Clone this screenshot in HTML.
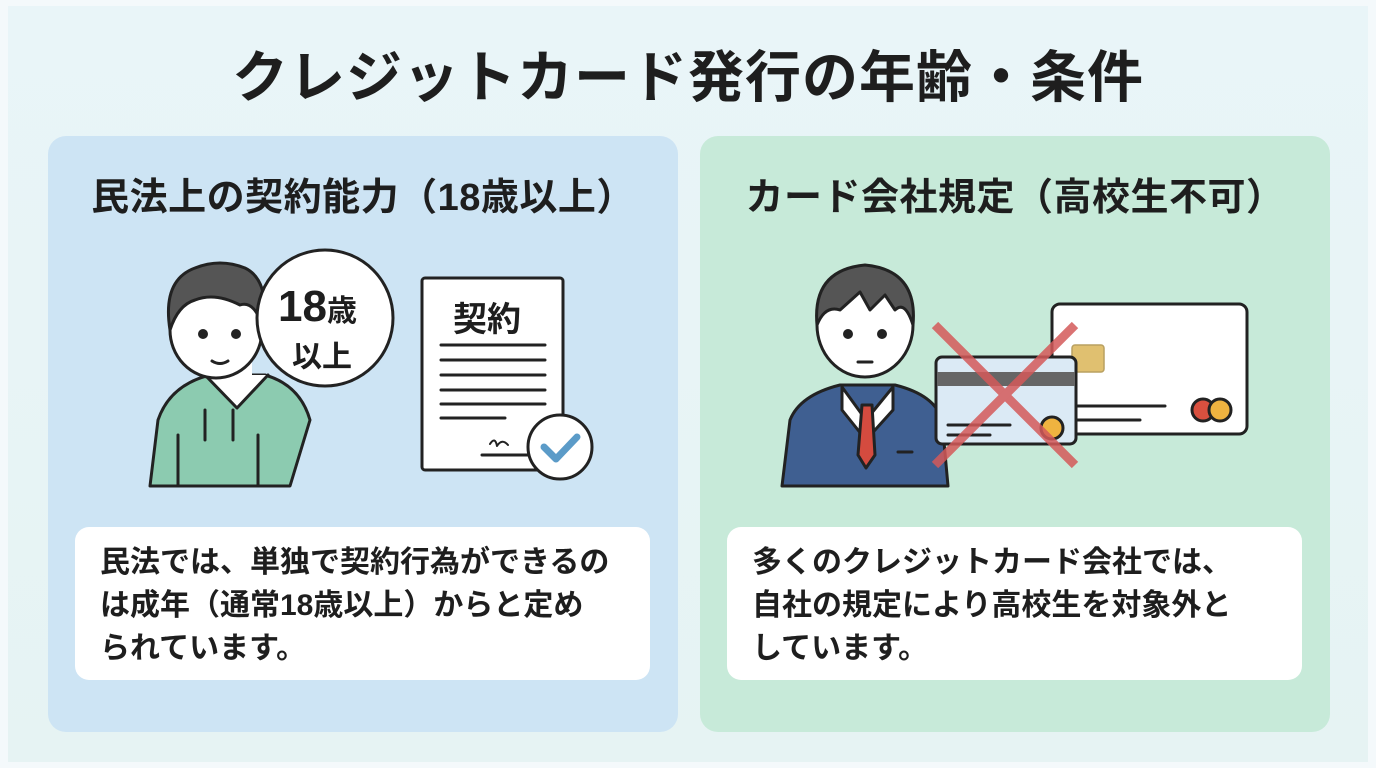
<!DOCTYPE html>
<html><head><meta charset="utf-8"><style>
*{margin:0;padding:0;box-sizing:border-box}
body{width:1376px;height:768px;overflow:hidden;background:#f4f9fb;font-family:"Liberation Sans","Noto Sans CJK JP",sans-serif;color:#1e1e1e;position:relative}
.bg{position:absolute;left:8px;top:6px;width:1360px;height:756px;background:linear-gradient(180deg,#e9f5f8,#e6f3f3)}
.title{position:absolute;left:0;width:1376px;top:33px;text-align:center;font-size:56px;font-weight:bold;letter-spacing:1px}
.panel{position:absolute;top:136px;width:630px;height:596px;border-radius:18px}
.h{position:absolute;top:166px;width:630px;text-align:center;font-size:38px;font-weight:bold;letter-spacing:0.5px}
.box{position:absolute;top:527px;width:575px;height:153px;background:#fff;border-radius:14px;font-size:30px;font-weight:bold;line-height:43px;padding:14px 0 0 25px;white-space:nowrap}
svg{position:absolute;left:0;top:0}
</style></head><body>
<div class="bg"></div>
<div class="title">クレジットカード発行の年齢・条件</div>
<div class="panel" style="left:48px;background:#cde4f4"></div>
<div class="panel" style="left:700px;background:#c7ead9"></div>
<div class="h" style="left:48px">民法上の契約能力（18歳以上）</div>
<div class="h" style="left:700px">カード会社規定（高校生不可）</div>
<div class="box" style="left:75px">民法では、単独で契約行為ができるの<br>は成年（通常18歳以上）からと定め<br>られています。</div>
<div class="box" style="left:727px">多くのクレジットカード会社では、<br>自社の規定により高校生を対象外と<br>しています。</div>
<svg width="1376" height="768" stroke="#222" stroke-width="3" stroke-linejoin="round" stroke-linecap="round">
<path d="M150 486 L158 420 Q170 385 210 375 L265 375 Q300 385 310 420 L290 486 Z" fill="#8ccbb0"/>
<path d="M205 375 L237 408 L268 375" fill="#fff"/>
<line x1="205" y1="410" x2="205" y2="440"/><line x1="233" y1="410" x2="233" y2="440"/>
<line x1="178" y1="435" x2="178" y2="486"/><line x1="258" y1="435" x2="258" y2="486"/>
<rect x="222" y="360" width="30" height="22" fill="#fff" stroke="none"/>
<ellipse cx="216" cy="330" rx="46" ry="48" fill="#fff"/>
<path d="M170 330 Q162 280 195 268 Q220 258 245 268 Q270 280 264 330 Q255 300 240 305 Q215 292 195 300 Q178 305 170 330Z" fill="#555"/>
<circle cx="203" cy="334" r="3.5" fill="#222"/><circle cx="236" cy="334" r="3.5" fill="#222"/>
<path d="M212 361 Q220 366 228 361" fill="none"/>
<circle cx="325" cy="318" r="68" fill="#fff"/>
<rect x="422" y="278" width="141" height="192" rx="3" fill="#fff"/>
<g stroke-width="3"><line x1="441" y1="345" x2="545" y2="345"/><line x1="441" y1="360" x2="545" y2="360"/><line x1="441" y1="375" x2="545" y2="375"/><line x1="441" y1="390" x2="545" y2="390"/><line x1="441" y1="404" x2="545" y2="404"/><line x1="441" y1="418" x2="505" y2="418"/><line x1="482" y1="455" x2="530" y2="455"/></g>
<path d="M490 444 Q495 436 497 446 Q502 438 508 445" fill="none" stroke-width="2"/>
<circle cx="560" cy="447" r="32" fill="#fff"/>
<path d="M544 447 L556 459 L577 437" fill="none" stroke="#5b9bc8" stroke-width="7"/>
<path d="M782 486 L790 420 Q800 395 840 385 L895 385 Q935 395 942 420 L948 486 Z" fill="#3f5f91"/>
<path d="M842 387 L866 420 L893 387 L893 410 L866 440 L842 410Z" fill="#fff"/>
<path d="M862 405 L872 405 L875 455 L866 468 L858 455Z" fill="#d44b3f"/>
<line x1="898" y1="452" x2="912" y2="452"/>
<ellipse cx="865" cy="325" rx="48" ry="52" fill="#fff"/>
<path d="M817 325 Q812 270 865 265 Q918 270 913 325 Q905 300 895 310 L885 295 L870 310 L860 292 L840 310 Q825 305 817 325Z" fill="#555"/>
<circle cx="848" cy="334" r="3.5" fill="#222"/><circle cx="882" cy="334" r="3.5" fill="#222"/>
<line x1="858" y1="362" x2="872" y2="362"/>
<rect x="1052" y="304" width="195" height="130" rx="8" fill="#fff"/>
<rect x="1072" y="345" width="32" height="27" rx="3" fill="#e0c070" stroke="#b9a060" stroke-width="1.5"/>
<line x1="1075" y1="406" x2="1165" y2="406"/><line x1="1075" y1="420" x2="1140" y2="420"/>
<circle cx="1203" cy="410" r="11" fill="#d9503f"/><circle cx="1220" cy="410" r="11" fill="#efb340"/>
<rect x="936" y="357" width="140" height="87" rx="6" fill="#dbeaf5"/>
<rect x="937" y="372" width="138" height="14" fill="#666" stroke="none"/>
<line x1="948" y1="425" x2="1010" y2="425"/><line x1="948" y1="435" x2="990" y2="435"/>
<circle cx="1052" cy="428" r="11" fill="#efb340"/>
<g stroke="#d45a5a" stroke-width="9" opacity=".85" stroke-linecap="butt"><line x1="935" y1="325" x2="1075" y2="465"/><line x1="1075" y1="325" x2="935" y2="465"/></g>
</svg>
<div style="position:absolute;left:278px;top:283px;font-size:44px;font-weight:bold;line-height:48px">18<span style="font-size:30px">歳</span></div>
<div style="position:absolute;left:292px;top:332px;font-size:30px;font-weight:bold">以上</div>
<div style="position:absolute;left:453px;top:292px;font-size:34px;font-weight:bold">契約</div>
</body></html>
